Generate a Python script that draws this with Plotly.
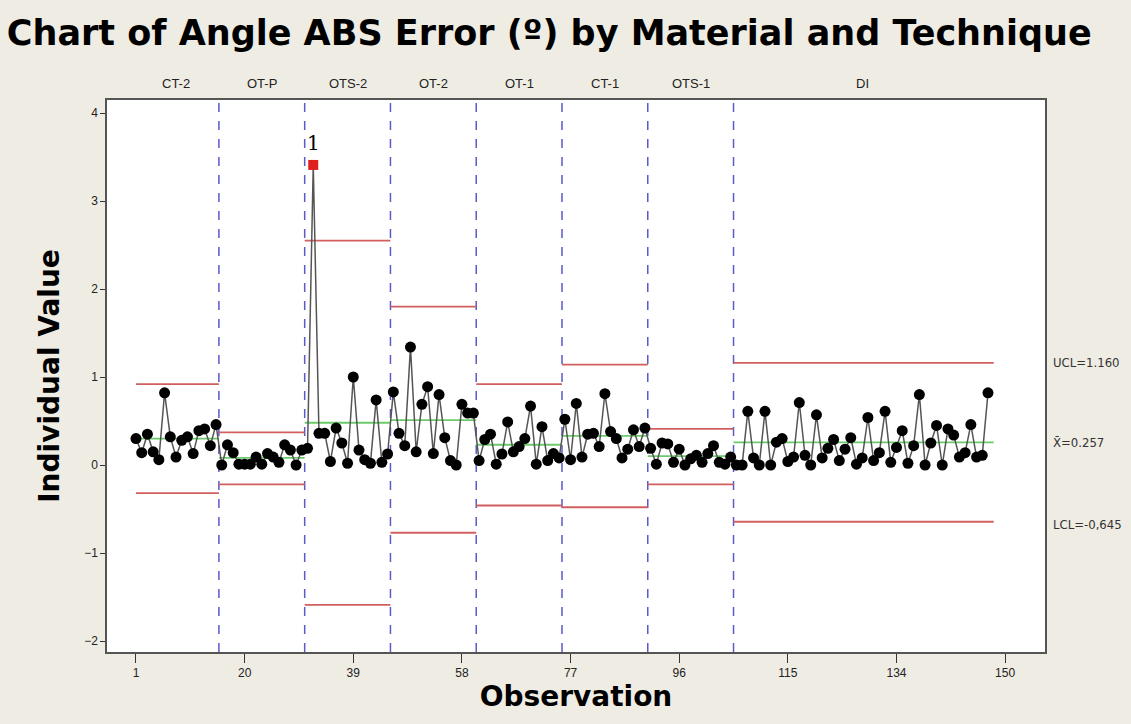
import plotly.graph_objects as go

# ---------------- data ----------------
groups = ["CT-2", "OT-P", "OTS-2", "OT-2", "OT-1", "CT-1", "OTS-1", "DI"]
group_start = [1, 16, 31, 46, 61, 76, 91, 106]
group_end = [15, 30, 45, 60, 75, 90, 105, 150]
ucl = [0.92, 0.37, 2.55, 1.80, 0.92, 1.14, 0.41, 1.160]
center = [0.30, 0.08, 0.48, 0.51, 0.23, 0.33, 0.10, 0.257]
lcl = [-0.32, -0.22, -1.59, -0.77, -0.46, -0.48, -0.22, -0.645]

values_ct2 = [0.30, 0.14, 0.35, 0.15, 0.06, 0.82, 0.32, 0.09, 0.28, 0.32, 0.13, 0.39, 0.41, 0.22, 0.46]
values_otp = [0.00, 0.23, 0.14, 0.01, 0.01, 0.01, 0.09, 0.01, 0.13, 0.09, 0.03, 0.23, 0.17, 0.00, 0.17]
values_ots2 = [0.19, 3.41, 0.36, 0.36, 0.04, 0.42, 0.25, 0.02, 1.00, 0.17, 0.06, 0.02, 0.74, 0.03, 0.125]
values_ot2 = [0.83, 0.36, 0.22, 1.34, 0.15, 0.69, 0.89, 0.13, 0.80, 0.31, 0.05, 0.00, 0.69, 0.59, 0.59]
values_ot1 = [0.05, 0.29, 0.35, 0.01, 0.125, 0.49, 0.15, 0.21, 0.30, 0.67, 0.01, 0.435, 0.05, 0.13, 0.08]
values_ct1 = [0.52, 0.06, 0.70, 0.09, 0.35, 0.36, 0.21, 0.81, 0.38, 0.30, 0.08, 0.18, 0.40, 0.21, 0.42]
values_ots1 = [0.19, 0.01, 0.25, 0.24, 0.03, 0.18, 0.00, 0.07, 0.11, 0.03, 0.13, 0.22, 0.03, 0.01, 0.09]
values_di = [0.00, 0.00, 0.61, 0.08, 0.00, 0.61, 0.00, 0.26, 0.30, 0.04, 0.09,
             0.71, 0.11, 0.00, 0.57, 0.08, 0.19, 0.29, 0.05, 0.18, 0.31, 0.01,
             0.08, 0.54, 0.05, 0.14, 0.61, 0.03, 0.20, 0.39, 0.02, 0.22, 0.80,
             0.00, 0.25, 0.45, 0.00, 0.41, 0.34, 0.09, 0.14, 0.46, 0.09, 0.11, 0.82]

outlier_obs = [32]
x_tick_vals = [1, 20, 39, 58, 77, 96, 115, 134, 153]
x_tick_text = ["1", "20", "39", "58", "77", "96", "115", "134", "150"]
y_tick_vals = [-2, -1, 0, 1, 2, 3, 4]

values = (values_ct2 + values_otp + values_ots2 + values_ot2 + values_ot1 +
          values_ct1 + values_ots1 + values_di)
obs = list(range(1, len(values) + 1))

# ---------------- styles ----------------
BG = "#EFECE4"
NARROW = "Liberation Sans Narrow, Liberation Sans, Arial"
TICKFONT = dict(family=NARROW, size=12, color="#222222")
RED = "#D25F5F"
GREEN = "#6BCB6B"
BLUE = "#5A5AC8"

fig = go.Figure()

# stage boundaries
for s in group_start[1:]:
    fig.add_shape(type="line", xref="x", yref="paper", x0=s - 0.5, x1=s - 0.5, y0=0, y1=1,
                  line=dict(color=BLUE, width=1.5, dash="dash"), layer="below")

# limit lines
n = len(groups)
for i in range(n):
    x0 = group_start[i] - 0.5 if i > 0 else group_start[i]
    x1 = group_end[i] + 0.5 if i < n - 1 else group_end[i] + 1
    for val, col in ((ucl[i], RED), (lcl[i], RED), (center[i], GREEN)):
        fig.add_trace(go.Scatter(x=[x0, x1], y=[val, val], mode="lines",
                                 line=dict(color=col, width=1.8),
                                 hoverinfo="skip", showlegend=False))

# data line + markers
fig.add_trace(go.Scatter(x=obs, y=values, mode="lines",
                         line=dict(color="#555555", width=1.5), showlegend=False))
normal_x = [o for o in obs if o not in outlier_obs]
normal_y = [values[o - 1] for o in normal_x]
fig.add_trace(go.Scatter(x=normal_x, y=normal_y, mode="markers",
                         marker=dict(color="black", size=11), showlegend=False))
out_y = [values[o - 1] for o in outlier_obs]
fig.add_trace(go.Scatter(x=outlier_obs, y=out_y, mode="markers",
                         marker=dict(color="#E01E1E", size=10, symbol="square"),
                         showlegend=False))

# outlier test label
for o, v in zip(outlier_obs, out_y):
    fig.add_annotation(x=o, y=v, text="1", showarrow=False, yshift=22,
                       font=dict(family="DejaVu Serif", size=20, color="black"))

# stage labels
for g, s, e in zip(groups, group_start, group_end):
    fig.add_annotation(x=(s + e) / 2, xref="x", y=1, yref="paper", yshift=17,
                       text=g, showarrow=False, yanchor="middle",
                       font=dict(family=NARROW, size=13, color="#222222"))

# right-side limit labels (final stage)
for txt, val in (("UCL=1.160", ucl[-1]), ("X\u0304=0.257", center[-1]), ("LCL=-0,645", lcl[-1] - 0.03)):
    fig.add_annotation(x=1, xref="paper", y=val, yref="y", xshift=6, xanchor="left",
                       text=txt, showarrow=False,
                       font=dict(family="DejaVu Sans Condensed, Liberation Sans", size=13,
                                 color="#333333"))

fig.update_layout(
    width=1131, height=724,
    paper_bgcolor=BG, plot_bgcolor="white",
    margin=dict(l=107, r=86, t=100, b=72),
    title=dict(text="<b>Chart of Angle ABS Error (º) by Material and Technique</b>",
               x=0.006, xanchor="left", y=0.955, yanchor="middle",
               font=dict(family="DejaVu Sans", size=35, color="black")),
    showlegend=False,
)
fig.update_xaxes(range=[-4.07, 159.97], tickvals=x_tick_vals, ticktext=x_tick_text,
                 showgrid=False, zeroline=False, ticks="outside", ticklen=9, tickcolor="#333",
                 tickfont=TICKFONT, showline=True, linecolor="#555", linewidth=1.5, mirror=True,
                 title=dict(text="<b>Observation</b>", standoff=6,
                            font=dict(family="DejaVu Sans", size=28, color="black")))
fig.update_yaxes(range=[-2.125, 4.148], tickvals=y_tick_vals,
                 showgrid=False, zeroline=False, ticks="outside", ticklen=5, tickcolor="#333",
                 tickfont=TICKFONT, showline=True, linecolor="#555", linewidth=1.5, mirror=True,
                 title=dict(text="<b>Individual Value</b>", standoff=16,
                            font=dict(family="DejaVu Sans", size=28, color="black")))

fig.write_html("out.html")
